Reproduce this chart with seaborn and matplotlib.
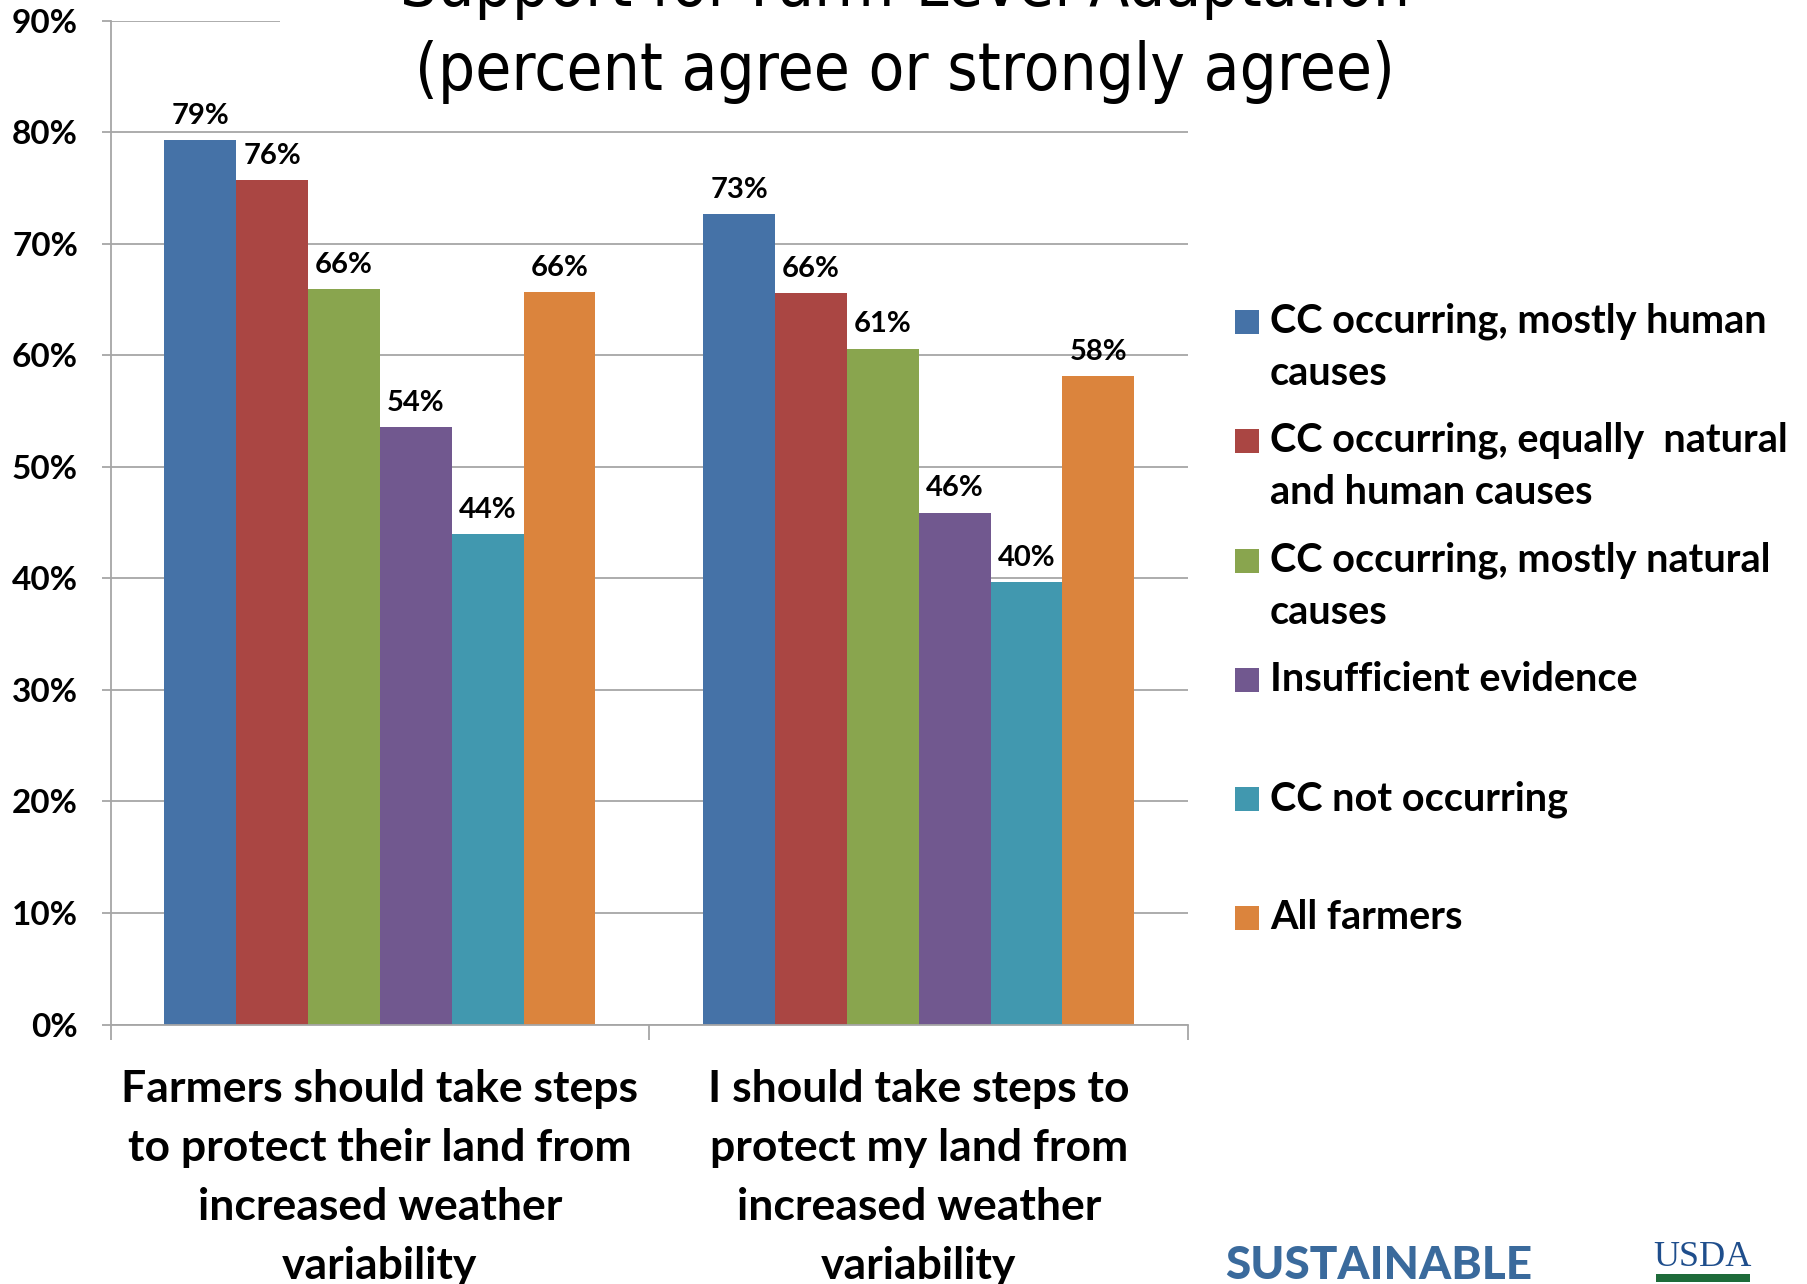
import numpy as np
import pandas as pd
import matplotlib
matplotlib.use("Agg")
import matplotlib.pyplot as plt
import seaborn as sns
from matplotlib.patches import Rectangle

# data (percent agree or strongly agree)
statements = ["Farmers should take steps\nto protect their land from\nincreased weather\nvariability",
              "I should take steps to\nprotect my land from\nincreased weather\nvariability"]
groups = ["CC occurring, mostly human causes", "CC occurring, equally natural and human causes",
          "CC occurring, mostly natural causes", "Insufficient evidence", "CC not occurring", "All farmers"]
legend_labels = ["CC occurring, mostly human\ncauses", "CC occurring, equally  natural\nand human causes",
                 "CC occurring, mostly natural\ncauses", "Insufficient evidence", "CC not occurring", "All farmers"]
farmers_should = [79.3, 75.7, 65.9, 53.6, 44.0, 65.7]
i_should = [72.7, 65.6, 60.6, 45.9, 39.7, 58.1]
colors = ["#4572A7", "#AA4643", "#89A54E", "#71588F", "#4198AF", "#DB843D"]

df = pd.DataFrame({
    "statement": [statements[0]] * len(groups) + [statements[1]] * len(groups),
    "group": groups + groups,
    "pct": farmers_should + i_should,
})

sns.set_style("white")
plt.rcParams['font.family'] = ['Lato', 'DejaVu Sans']
plt.rcParams['text.color'] = 'black'
plt.rcParams['xtick.labelcolor'] = 'black'
plt.rcParams['ytick.labelcolor'] = 'black'

fig = plt.figure(figsize=(18.07, 12.84), dpi=100)
ax = fig.add_axes([0.0612, 0.2021, 0.5963, 0.7818])

sns.barplot(data=df, x="statement", y="pct", hue="group", order=statements, hue_order=groups,
            palette=colors, width=0.8, gap=0, saturation=1, edgecolor="none", legend=False, ax=ax)

for cont in ax.containers:
    ax.bar_label(cont, fmt="{:.0f}%", padding=8, fontsize=21, fontweight="bold", color="black")

ax.set_ylim(0, 90)
ax.set_xlim(-0.5, 1.5)
ax.set_yticks(np.arange(0, 91, 10))
ax.set_yticklabels([f"{v}%" for v in range(0, 91, 10)], fontsize=24, fontweight="bold")
ax.yaxis.grid(True, color="#A6A6A6", linewidth=1.3)
ax.set_axisbelow(True)
ax.tick_params(axis="y", length=6.5, width=1.3, color="#A6A6A6", pad=17, left=True)
ax.set_xticks([0, 1])
ax.set_xticklabels(statements, fontsize=32, fontweight="bold", linespacing=1.58)
ax.set_xticks([-0.5, 0.5, 1.5], minor=True)
ax.tick_params(axis="x", which="major", length=0, pad=32)
ax.tick_params(axis="x", which="minor", length=11, width=1.3, color="#A6A6A6", bottom=True)
ax.set_xlabel("")
ax.set_ylabel("")
for s in ["top", "right"]:
    ax.spines[s].set_visible(False)
for s in ["left", "bottom"]:
    ax.spines[s].set_color("#A6A6A6")
    ax.spines[s].set_linewidth(1.3)

# white title box covering the upper gridline, as on the slide
W, H = 1807, 1284
fig.patches.append(Rectangle((280 / W, 1 - 70 / H), 1100 / W, 70 / H, transform=fig.transFigure,
                             facecolor="white", edgecolor="none", zorder=2))
fig.text(905 / W, 1 - 6 / H, "Support for Farm-Level Adaptation", ha="center", va="baseline",
         fontsize=47, family="DejaVu Sans", fontstretch="condensed", zorder=3)
fig.text(905 / W, 1 - 90 / H, "(percent agree or strongly agree)", ha="center", va="baseline",
         fontsize=47, family="DejaVu Sans", fontstretch="condensed", zorder=3)

# legend on the right
ys = [322, 441, 561, 680, 799, 918]
for lab, col, y in zip(legend_labels, colors, ys):
    fig.patches.append(Rectangle((1235 / W, 1 - (y + 12) / H), 24 / W, 24 / H, transform=fig.transFigure,
                                 facecolor=col, edgecolor="none"))
    for i, line in enumerate(lab.split("\n")):
        fig.text(1270 / W, 1 - (y + 11 + 52 * i) / H, line, ha="left", va="baseline", fontsize=28.5,
                 fontweight="bold")

# logos cut off at the bottom
fig.text(1225 / W, 1 - 1279 / H, "SUSTAINABLE", ha="left", va="baseline", fontsize=33,
         fontweight="black", color="#3A6A9C")
fig.text(1225 / W, 1 - 1320 / H, "CORN", ha="left", va="baseline", fontsize=33,
         fontweight="black", color="#3A6A9C")
fig.text(1375 / W, 1 - 1320 / H, ".ORG", ha="left", va="baseline", fontsize=33,
         fontweight="black", color="#D9772F")
fig.text(1702 / W, 1 - 1266 / H, "USDA", ha="center", va="baseline", fontsize=26,
         family=['Liberation Serif', 'DejaVu Serif'], color="#1F4E8C")
fig.patches.append(Rectangle((1656 / W, 1 - 1282 / H), 94 / W, 8 / H, transform=fig.transFigure,
                             facecolor="#1E6B3A", edgecolor="none"))

fig.savefig("out.png", dpi=100)
